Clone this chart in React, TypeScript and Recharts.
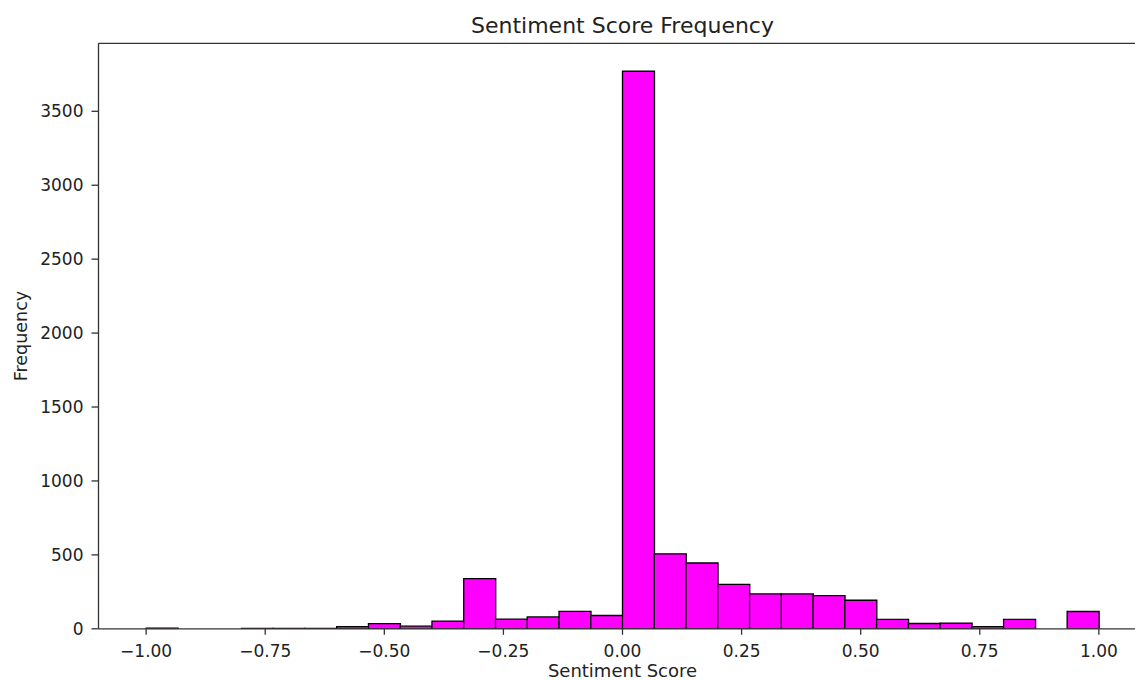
import React from "react";
import { ComposedChart, Bar, XAxis, YAxis } from "recharts";

// Histogram bin centers (30 bins from -1 to 1)
const binCenters = [
  -0.9667, -0.9, -0.8333, -0.7667, -0.7, -0.6333, -0.5667, -0.5, -0.4333, -0.3667,
  -0.3, -0.2333, -0.1667, -0.1, -0.0333, 0.0333, 0.1, 0.1667, 0.2333, 0.3,
  0.3667, 0.4333, 0.5, 0.5667, 0.6333, 0.7, 0.7667, 0.8333, 0.9, 0.9667,
];

// Frequency per bin
const counts = [
  4, 0, 0, 3, 3, 3, 15, 35, 18, 52,
  340, 65, 80, 118, 90, 3771, 507, 445, 300, 236,
  236, 224, 193, 64, 36, 39, 15, 64, 0, 117,
];

const xTicks = [-1, -0.75, -0.5, -0.25, 0, 0.25, 0.5, 0.75, 1];
const yTicks = [0, 500, 1000, 1500, 2000, 2500, 3000, 3500];

const title = "Sentiment Score Frequency";
const xLabel = "Sentiment Score";
const yLabel = "Frequency";

const data = binCenters.map((c, i) => ({ center: c, count: counts[i] }));

const fmtX = (v: number) => v.toFixed(2).replace("-", "\u2212");

const textColor = "#222";
const axisColor = "#333";

export default function App() {
  return (
    <div
      style={{
        position: "fixed",
        left: 0,
        top: 0,
        width: 1135,
        height: 680,
        overflow: "hidden",
        background: "#fff",
        fontFamily: "'DejaVu Sans', sans-serif",
      }}
    >
      <div
        style={{
          position: "absolute",
          left: 0,
          top: 14.7,
          width: 1245,
          textAlign: "center",
          fontSize: 22,
          lineHeight: "22px",
          color: textColor,
          whiteSpace: "nowrap",
        }}
      >
        {title}
      </div>
      <div style={{ position: "absolute", left: 0, top: 0 }}>
        <ComposedChart
          width={1165}
          height={680}
          data={data}
          margin={{ top: 42.3, right: 18.5, bottom: 0, left: 0 }}
          barCategoryGap={0}
          barGap={0}
        >
          <XAxis
            xAxisId="b"
            type="number"
            dataKey="center"
            domain={[-1.1, 1.1]}
            allowDataOverflow
            ticks={xTicks}
            interval={0}
            tickFormatter={fmtX}
            height={51.2}
            tickSize={6}
            tickMargin={10}
            tick={{ fontSize: 17, fill: textColor }}
            stroke={axisColor}
            strokeWidth={1.3}
            label={{
              value: xLabel,
              position: "insideBottom",
              offset: 3,
              fontSize: 18,
              fill: textColor,
            }}
          />
          <XAxis
            xAxisId="t"
            orientation="top"
            type="number"
            dataKey="center"
            domain={[-1.1, 1.1]}
            allowDataOverflow
            height={1}
            tick={false}
            tickLine={false}
            stroke={axisColor}
            strokeWidth={1.3}
          />
          <YAxis
            type="number"
            domain={[0, 3960]}
            allowDataOverflow
            ticks={yTicks}
            interval={0}
            width={98.5}
            tickSize={7}
            tickMargin={8}
            tick={{ fontSize: 17, fill: textColor }}
            stroke={axisColor}
            strokeWidth={1.3}
            label={{
              value: yLabel,
              angle: -90,
              position: "insideLeft",
              offset: 21,
              fontSize: 17.5,
              fill: textColor,
              style: { textAnchor: "middle" },
            }}
          />
          <Bar
            xAxisId="b"
            dataKey="count"
            fill="#ff00ff"
            stroke="#000"
            strokeWidth={1.3}
            isAnimationActive={false}
          />
        </ComposedChart>
      </div>
    </div>
  );
}
